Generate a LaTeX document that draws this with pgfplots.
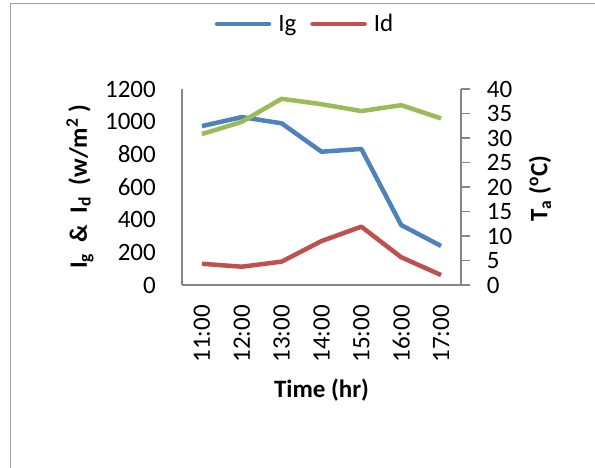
\documentclass[border=0pt]{standalone}
\usepackage{fontspec}
\setmainfont{Carlito}
\usepackage{pgfplots}
\pgfplotsset{compat=1.18}
\definecolor{igblue}{HTML}{4F81BD}
\definecolor{idred}{HTML}{C0504D}
\definecolor{tagreen}{HTML}{9BBB59}
\definecolor{axgray}{HTML}{868686}
\definecolor{framegray}{HTML}{A0A0A0}
\newcommand{\bigf}{\fontsize{25}{30}\selectfont}
\begin{document}
\begin{tikzpicture}[x=1pt,y=1pt]
\useasboundingbox (0,0) rectangle (595,467);
\draw[framegray, line width=1.5pt] (10.5,-5) -- (10.5,463.5) -- (600,463.5);
\pgfplotsset{
  common/.style={
    scale only axis, width=279pt, height=196pt,
    at={(182pt,182pt)}, anchor=south west,
    xmin=-0.5, xmax=6.5, clip=false,
    tick label style={font=\bigf},
    /pgf/number format/assume math mode=true,
    /pgf/number format/1000 sep={},
    axis line style={axgray, line width=1.2pt},
  }
}
\begin{axis}[common,
  axis x line*=bottom, axis y line*=left,
  ymin=0, ymax=1200, ytick={0,200,...,1200},
  xtick={0,...,6}, xticklabels={11:00,12:00,13:00,14:00,15:00,16:00,17:00},
  major tick length=0pt,
  xticklabel style={rotate=90, anchor=east, inner sep=0pt},
  xticklabel shift=20pt,
  yticklabel style={anchor=east, inner sep=0pt, xshift=-26pt},
  xlabel={\bfseries Time (hr)},
  every axis x label/.style={at={(axis description cs:0.5,-0.5357)}, anchor=center, font=\bigf},
  ylabel={\bfseries I\textsubscript{g}\ \ \&\ \ I\textsubscript{d}\ \ (w/m\textsuperscript{2} )},
  every axis y label/.style={at={(axis description cs:-0.3656,0.5)}, rotate=90, anchor=center, font=\bigf},
  legend style={at={(0.4409,1.3316)}, anchor=center, draw=none, fill=none, font=\bigf,
    inner sep=0pt,
    /tikz/every even column/.append style={column sep=12pt},
    /tikz/every odd column/.append style={column sep=5pt}},
  legend columns=2,
  legend image code/.code={\draw[#1, line cap=round] (0pt,0pt) -- (52pt,0pt);},
]
\addplot[igblue, line width=4.5pt, line join=round] coordinates {
  (0,973) (1,1028) (2,990) (3,816) (4,833) (5,367) (6,239)};
\addlegendentry{Ig}
\addplot[idred, line width=4.5pt, line join=round] coordinates {
  (0,130) (1,112) (2,143) (3,269) (4,357) (5,170) (6,61)};
\addlegendentry{Id}
\end{axis}
\begin{axis}[common,
  axis x line=none, axis y line*=right, xtick=\empty,
  ymin=0, ymax=40, ytick={0,5,...,40},
  tick align=outside, major tick length=9pt,
  ytick style={axgray, line width=1.2pt},
  yticklabel style={anchor=west, inner sep=0pt, xshift=16.7pt},
  ylabel={\bfseries T\textsubscript{a} (\textsuperscript{o}C)},
  every axis y label/.style={at={(axis description cs:1.283,0.492)}, rotate=90, anchor=center, font=\bigf},
]
\addplot[tagreen, line width=4.5pt, line join=round] coordinates {
  (0,30.8) (1,33.3) (2,38.0) (3,36.9) (4,35.5) (5,36.7) (6,34.0)};
\end{axis}
\end{tikzpicture}
\end{document}
